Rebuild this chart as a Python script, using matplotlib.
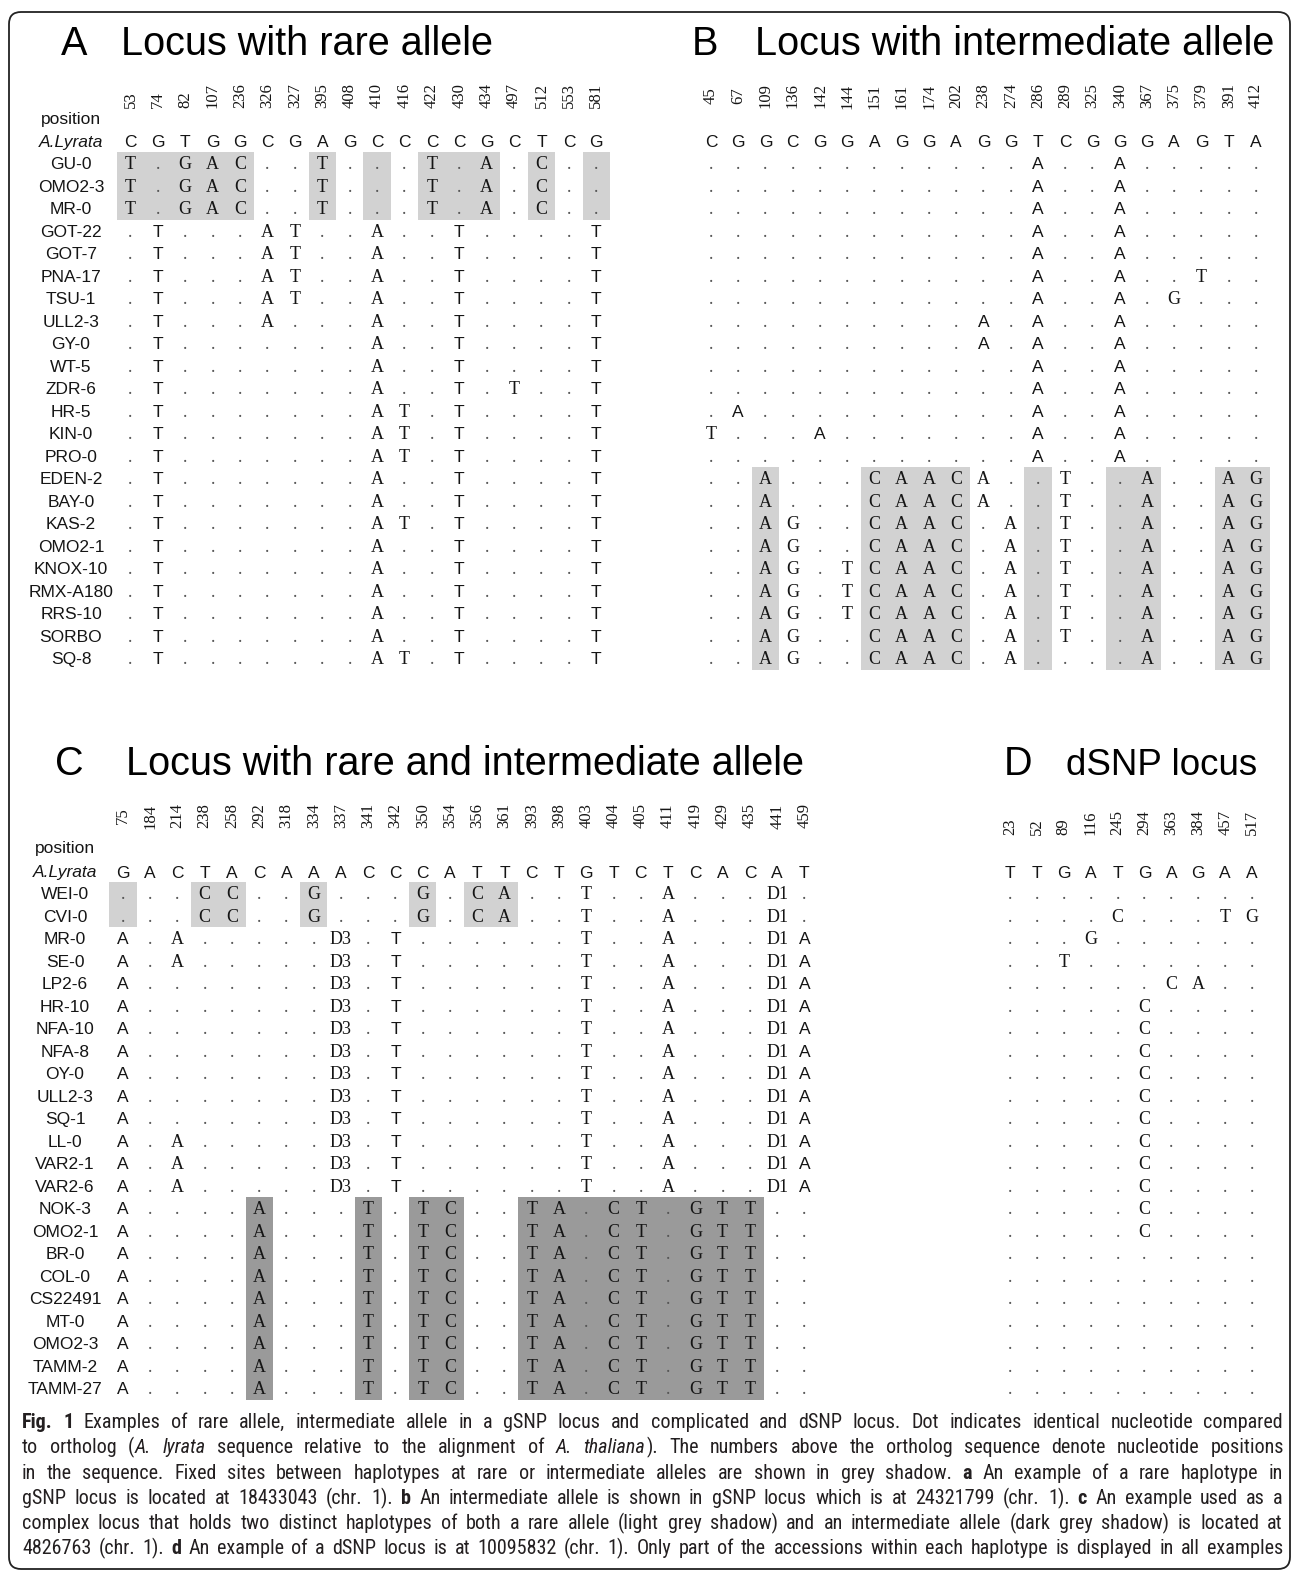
import matplotlib
matplotlib.use("Agg")
import matplotlib.pyplot as plt
from matplotlib.patches import Rectangle, FancyBboxPatch
from matplotlib.font_manager import FontProperties, fontManager

# ======================= DATA =======================
# ---- Panel A : locus with rare allele ----
A_title = "Locus with rare allele"
A_positions = [53, 74, 82, 107, 236, 326, 327, 395, 408, 410, 416, 422, 430, 434, 497, 512, 553, 581]
A_reference = list("CGTGGCGAGCCCCGCTCG")
A_accessions = ["GU-0", "OMO2-3", "MR-0", "GOT-22", "GOT-7", "PNA-17", "TSU-1", "ULL2-3",
                "GY-0", "WT-5", "ZDR-6", "HR-5", "KIN-0", "PRO-0", "EDEN-2", "BAY-0",
                "KAS-2", "OMO2-1", "KNOX-10", "RMX-A180", "RRS-10", "SORBO", "SQ-8"]
A_sequences = [
    "T.GAC..T...T.A.C..",
    "T.GAC..T...T.A.C..",
    "T.GAC..T...T.A.C..",
    ".T...AT..A..T....T",
    ".T...AT..A..T....T",
    ".T...AT..A..T....T",
    ".T...AT..A..T....T",
    ".T...A...A..T....T",
    ".T.......A..T....T",
    ".T.......A..T....T",
    ".T.......A..T.T..T",
    ".T.......AT.T....T",
    ".T.......AT.T....T",
    ".T.......AT.T....T",
    ".T.......A..T....T",
    ".T.......A..T....T",
    ".T.......AT.T....T",
    ".T.......A..T....T",
    ".T.......A..T....T",
    ".T.......A..T....T",
    ".T.......A..T....T",
    ".T.......A..T....T",
    ".T.......AT.T....T",
]
A_rare_positions = [53, 74, 82, 107, 236, 395, 410, 422, 430, 434, 512, 581]
A_rare_accessions = ["GU-0", "OMO2-3", "MR-0"]

# ---- Panel B : locus with intermediate allele ----
B_title = "Locus with intermediate allele"
B_positions = [45, 67, 109, 136, 142, 144, 151, 161, 174, 202, 238, 274, 286, 289, 325,
               340, 367, 375, 379, 391, 412]
B_reference = list("CGGCGGAGGAGGTCGGGAGTA")
B_sequences = [
    "............A..A.....",
    "............A..A.....",
    "............A..A.....",
    "............A..A.....",
    "............A..A.....",
    "............A..A..T..",
    "............A..A.G...",
    "..........A.A..A.....",
    "..........A.A..A.....",
    "............A..A.....",
    "............A..A.....",
    ".A..........A..A.....",
    "T...A.......A..A.....",
    "............A..A.....",
    "..A...CAACA..T..A..AG",
    "..A...CAACA..T..A..AG",
    "..AG..CAAC.A.T..A..AG",
    "..AG..CAAC.A.T..A..AG",
    "..AG.TCAAC.A.T..A..AG",
    "..AG.TCAAC.A.T..A..AG",
    "..AG.TCAAC.A.T..A..AG",
    "..AG..CAAC.A.T..A..AG",
    "..AG..CAAC.A....A..AG",
]
B_intermediate_positions = [109, 151, 161, 174, 202, 286, 340, 367, 391, 412]
B_intermediate_rows = [14, 15, 16, 17, 18, 19, 20, 21, 22]

# ---- Panel C : locus with rare and intermediate allele ----
C_title = "Locus with rare and intermediate allele"
C_positions = [75, 184, 214, 238, 258, 292, 318, 334, 337, 341, 342, 350, 354, 356, 361,
               393, 398, 403, 404, 405, 411, 419, 429, 435, 441, 459]
C_reference = list("GACTACAAACCCATTCTGTCTCACAT")
C_accessions = ["WEI-0", "CVI-0", "MR-0", "SE-0", "LP2-6", "HR-10", "NFA-10", "NFA-8",
                "OY-0", "ULL2-3", "SQ-1", "LL-0", "VAR2-1", "VAR2-6", "NOK-3", "OMO2-1",
                "BR-0", "COL-0", "CS22491", "MT-0", "OMO2-3", "TAMM-2", "TAMM-27"]
C_sequences = [
    ". . . C C . . G . . . G . C A . . T . . A . . . D1 .",
    ". . . C C . . G . . . G . C A . . T . . A . . . D1 .",
    "A . A . . . . . D3 . T . . . . . . T . . A . . . D1 A",
    "A . A . . . . . D3 . T . . . . . . T . . A . . . D1 A",
    "A . . . . . . . D3 . T . . . . . . T . . A . . . D1 A",
    "A . . . . . . . D3 . T . . . . . . T . . A . . . D1 A",
    "A . . . . . . . D3 . T . . . . . . T . . A . . . D1 A",
    "A . . . . . . . D3 . T . . . . . . T . . A . . . D1 A",
    "A . . . . . . . D3 . T . . . . . . T . . A . . . D1 A",
    "A . . . . . . . D3 . T . . . . . . T . . A . . . D1 A",
    "A . . . . . . . D3 . T . . . . . . T . . A . . . D1 A",
    "A . A . . . . . D3 . T . . . . . . T . . A . . . D1 A",
    "A . A . . . . . D3 . T . . . . . . T . . A . . . D1 A",
    "A . A . . . . . D3 . T . . . . . . T . . A . . . D1 A",
    "A . . . . A . . . T . T C . . T A . C T . G T T . .",
    "A . . . . A . . . T . T C . . T A . C T . G T T . .",
    "A . . . . A . . . T . T C . . T A . C T . G T T . .",
    "A . . . . A . . . T . T C . . T A . C T . G T T . .",
    "A . . . . A . . . T . T C . . T A . C T . G T T . .",
    "A . . . . A . . . T . T C . . T A . C T . G T T . .",
    "A . . . . A . . . T . T C . . T A . C T . G T T . .",
    "A . . . . A . . . T . T C . . T A . C T . G T T . .",
    "A . . . . A . . . T . T C . . T A . C T . G T T . .",
]
C_rare_positions = [75, 238, 258, 334, 350, 356, 361]
C_rare_accessions = ["WEI-0", "CVI-0"]
C_inter_positions = [292, 341, 350, 354, 393, 398, 403, 404, 405, 411, 419, 429, 435]
C_inter_accessions = ["NOK-3", "OMO2-1", "BR-0", "COL-0", "CS22491", "MT-0", "OMO2-3",
                      "TAMM-2", "TAMM-27"]

# ---- Panel D : dSNP locus ----
D_title = "dSNP locus"
D_positions = [23, 52, 89, 116, 245, 294, 363, 384, 457, 517]
D_reference = list("TTGATGAGAA")
D_sequences = [
    "..........",
    "....C...TG",
    "...G......",
    "..T.......",
    "......CA..",
    ".....C....",
    ".....C....",
    ".....C....",
    ".....C....",
    ".....C....",
    ".....C....",
    ".....C....",
    ".....C....",
    ".....C....",
    ".....C....",
    ".....C....",
    "..........",
    "..........",
    "..........",
    "..........",
    "..........",
    "..........",
    "..........",
]

# ---- caption ----
caption_lines = [
    [("Fig. 1", "b"), (" Examples of rare allele, intermediate allele in a gSNP locus and complicated and dSNP locus. Dot indicates identical nucleotide compared", "n")],
    [("to ortholog (", "n"), ("A. lyrata", "i"), (" sequence relative to the alignment of ", "n"), ("A. thaliana", "i"), ("). The numbers above the ortholog sequence denote nucleotide positions", "n")],
    [("in the sequence. Fixed sites between haplotypes at rare or intermediate alleles are shown in grey shadow. ", "n"), ("a", "b"), (" An example of a rare haplotype in", "n")],
    [("gSNP locus is located at 18433043 (chr. 1). ", "n"), ("b", "b"), (" An intermediate allele is shown in gSNP locus which is at 24321799 (chr. 1). ", "n"), ("c", "b"), (" An example used as a", "n")],
    [("complex locus that holds two distinct haplotypes of both a rare allele (light grey shadow) and an intermediate allele (dark grey shadow) is located at", "n")],
    [("4826763 (chr. 1). ", "n"), ("d", "b"), (" An example of a dSNP locus is at 10095832 (chr. 1). Only part of the accessions within each haplotype is displayed in all examples", "n")],
]

# ======================= STYLE =======================
W, H, DPI = 1293, 1577, 100
SANS = "Liberation Sans"
SERIF = "Liberation Serif"
INK = "#151515"
DOT = "#555555"
LIGHT = "#d2d2d2"
DARK = "#9a9a9a"
TITLE_FS = 28.5
NUM_FS = 12
REF_FS = 12.5
VAR_FS = 13
LAB_FS = 12.5
BASE_OFF = 6.0
ROW_DY = 22.5

_WMAP = {"ultralight": 200, "light": 300, "normal": 400, "regular": 400, "book": 400,
         "roman": 400, "medium": 500, "semibold": 600, "demibold": 600, "demi": 600,
         "bold": 700, "heavy": 800, "extra bold": 800, "black": 900}


def _wnum(w):
    if isinstance(w, (int, float)):
        return int(w)
    return _WMAP.get(str(w).lower(), 400)


CAP_FAMILY, CAP_NORMAL_W = "Open Sans", 400
for cand in ["Open Sans Condensed", "Liberation Sans Narrow", "Roboto Condensed",
             "Arial Narrow", "Open Sans"]:
    ws = [_wnum(f.weight) for f in fontManager.ttflist
          if f.name == cand and f.style == "normal"]
    light_ok = [w for w in ws if w <= 400]
    if light_ok:
        CAP_FAMILY, CAP_NORMAL_W = cand, max(light_ok)
        break

fig = plt.figure(figsize=(W / DPI, H / DPI), dpi=DPI)
ax = fig.add_axes([0, 0, 1, 1])
ax.set_xlim(0, W)
ax.set_ylim(H, 0)
ax.axis("off")

ax.add_patch(FancyBboxPatch((9, 12), 1281, 1557, boxstyle="round,pad=0,rounding_size=12",
                            fill=False, ec="#222222", lw=1.3, zorder=5))


def contiguous(idx):
    idx = sorted(idx)
    out = []
    start = prev = idx[0]
    for i in idx[1:]:
        if i == prev + 1:
            prev = i
            continue
        out.append((start, prev))
        start = prev = i
    out.append((start, prev))
    return out


def shade(xs, ys, dx, col_idx, row_idx, color):
    for c0, c1 in contiguous(col_idx):
        for r0, r1 in contiguous(row_idx):
            ax.add_patch(Rectangle((xs[c0] - dx / 2, ys[r0] - ROW_DY / 2),
                                   xs[c1] - xs[c0] + dx, ys[r1] - ys[r0] + ROW_DY,
                                   facecolor=color, edgecolor="none", zorder=1))


def draw_alignment(positions, reference, sequences, x0, dx, ref_y, row0, num_y, num_va,
                   sans_rule, labels=None, label_x=None, pos_label_y=None):
    xs = [x0 + i * dx for i in range(len(positions))]
    ys = [row0 + j * ROW_DY for j in range(len(sequences))]
    for i, p in enumerate(positions):
        ax.text(xs[i], num_y, str(p), rotation=90, ha="center", va=num_va,
                fontsize=NUM_FS, family=SERIF, color=INK, zorder=3)
    for i, b in enumerate(reference):
        ax.text(xs[i], ref_y + BASE_OFF, b, ha="center", va="baseline",
                fontsize=REF_FS, family=SANS, color=INK, zorder=3)
    for j, seq in enumerate(sequences):
        toks = seq.split() if " " in seq else list(seq)
        for i, tok in enumerate(toks):
            if tok == ".":
                ax.text(xs[i], ys[j] + BASE_OFF, ".", ha="center", va="baseline",
                        fontsize=VAR_FS, family=SERIF, color=DOT, zorder=3)
            else:
                fam = SANS if sans_rule(j, positions[i], tok) else SERIF
                fs = REF_FS if fam == SANS else VAR_FS
                ax.text(xs[i], ys[j] + BASE_OFF, tok, ha="center", va="baseline",
                        fontsize=fs, family=fam, color=INK, zorder=3)
    if labels is not None:
        for j, lab in enumerate(labels):
            ax.text(label_x, ys[j] + BASE_OFF, lab, ha="center", va="baseline",
                    fontsize=LAB_FS, family=SANS, color=INK, zorder=3)
        ax.text(label_x, ref_y + BASE_OFF, "A.Lyrata", ha="center", va="baseline",
                fontsize=LAB_FS, family=SANS, style="italic", color=INK, zorder=3)
        ax.text(label_x, pos_label_y, "position", ha="center", va="baseline",
                fontsize=LAB_FS, family=SANS, color=INK, zorder=3)
    return xs, ys


def title(letter, lx, text, tx, y, fs=TITLE_FS):
    ax.text(lx, y, letter, ha="center", va="baseline", fontsize=TITLE_FS, family=SANS, color="#000000")
    ax.text(tx, y, text, ha="left", va="baseline", fontsize=fs, family=SANS, color="#000000")


# ---- Panel A ----
title("A", 74, A_title, 121, 55)
A_sans = {74, 430, 581}
xs, ys = draw_alignment(A_positions, A_reference, A_sequences, 130.5, 27.4, 141, 163.3,
                        108, "bottom", lambda j, p, t: p in A_sans,
                        labels=A_accessions, label_x=71, pos_label_y=124)
shade(xs, ys, 27.4, [A_positions.index(p) for p in A_rare_positions],
      [A_accessions.index(a) for a in A_rare_accessions], LIGHT)

# ---- Panel B ----
title("B", 705, B_title, 755, 55)
xs, ys = draw_alignment(B_positions, B_reference, B_sequences, 711, 27.25, 141, 163.3,
                        96, "center", lambda j, p, t: j < 14 and t == "A")
shade(xs, ys, 27.25, [B_positions.index(p) for p in B_intermediate_positions],
      B_intermediate_rows, LIGHT)

# ---- Panel C ----
title("C", 69, C_title, 126, 775)
C_sans = {75, 342, 459}
xs, ys = draw_alignment(C_positions, C_reference, C_sequences, 122.9, 27.26, 871.5, 893.3,
                        816, "center", lambda j, p, t: p in C_sans,
                        labels=C_accessions, label_x=65, pos_label_y=853)
shade(xs, ys, 27.26, [C_positions.index(p) for p in C_rare_positions],
      [C_accessions.index(a) for a in C_rare_accessions], LIGHT)
shade(xs, ys, 27.26, [C_positions.index(p) for p in C_inter_positions],
      [C_accessions.index(a) for a in C_inter_accessions], DARK)

# ---- Panel D ----
title("D", 1018, D_title, 1066, 775, fs=26.5)
draw_alignment(D_positions, D_reference, D_sequences, 1010, 26.9, 871.5, 893.3,
               835, "bottom", lambda j, p, t: False)

# ---- caption (justified) ----
renderer = fig.canvas.get_renderer()


def cap_fp(style, size):
    return FontProperties(family=CAP_FAMILY, size=size,
                          weight=700 if style == "b" else CAP_NORMAL_W,
                          style="italic" if style == "i" else "normal")


def text_w(s, prop):
    w, h, d = renderer.get_text_width_height_descent(s, prop, ismath=False)
    return w


def split_words(runs):
    words = [[]]
    for text, style in runs:
        parts = text.split(" ")
        for k, part in enumerate(parts):
            if k > 0:
                words.append([])
            if part:
                words[-1].append((part, style))
    return [w for w in words if w]


CAP_LEFT, CAP_RIGHT = 22, 1283
target = CAP_RIGHT - CAP_LEFT
line_words = [split_words(r) for r in caption_lines]
base = 10.0
scales = []
for words in line_words:
    sp = text_w("x x", cap_fp("n", base)) - text_w("xx", cap_fp("n", base))
    tot = sum(text_w(p, cap_fp(s, base)) for w in words for p, s in w)
    scales.append(target / (tot + sp * (len(words) - 1)))
cap_size = min(base * min(scales), 14.5)

for li, words in enumerate(line_words):
    y = 1428 + li * 25.3
    widths = [[text_w(p, cap_fp(s, cap_size)) for p, s in w] for w in words]
    tot = sum(sum(ws) for ws in widths)
    gap = (target - tot) / (len(words) - 1)
    x = CAP_LEFT
    for w, ws in zip(words, widths):
        for k, ((p, s), pw) in enumerate(zip(w, ws)):
            ax.text(x, y, p, ha="left", va="baseline", fontproperties=cap_fp(s, cap_size),
                    color="#231f20")
            x += pw + (0.8 if k < len(w) - 1 else 0)
        x += gap

fig.savefig("out.png", dpi=DPI)
